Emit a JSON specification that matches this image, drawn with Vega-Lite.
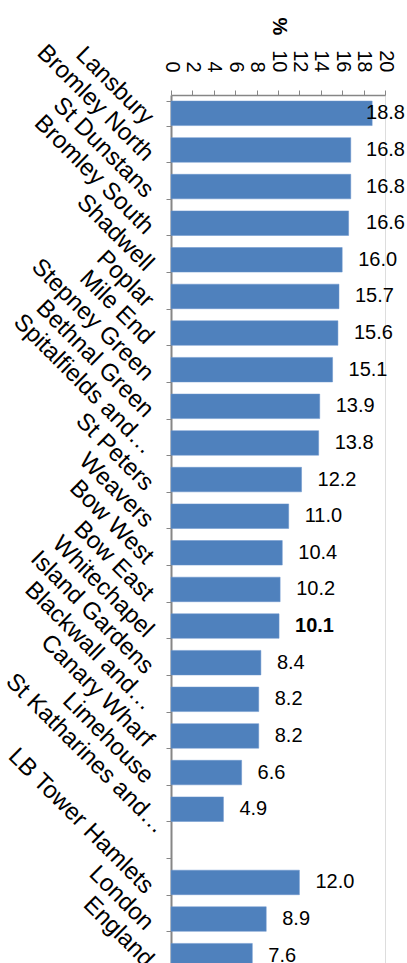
{
  "$schema": "https://vega.github.io/schema/vega-lite/v6.json",
  "autosize": {"type": "none"},
  "padding": {"left": 171, "top": 95, "right": 22, "bottom": 0},
  "width": 214,
  "height": 879,
  "background": "white",
  "data": {"values": [
    {"area": "Lansbury", "pct": 18.8, "bold": false},
    {"area": "Bromley North", "pct": 16.8, "bold": false},
    {"area": "St Dunstans", "pct": 16.8, "bold": false},
    {"area": "Bromley South", "pct": 16.6, "bold": false},
    {"area": "Shadwell", "pct": 16.0, "bold": false},
    {"area": "Poplar", "pct": 15.7, "bold": false},
    {"area": "Mile End", "pct": 15.6, "bold": false},
    {"area": "Stepney Green", "pct": 15.1, "bold": false},
    {"area": "Bethnal Green", "pct": 13.9, "bold": false},
    {"area": "Spitalfields and…", "pct": 13.8, "bold": false},
    {"area": "St Peters", "pct": 12.2, "bold": false},
    {"area": "Weavers", "pct": 11.0, "bold": false},
    {"area": "Bow West", "pct": 10.4, "bold": false},
    {"area": "Bow East", "pct": 10.2, "bold": false},
    {"area": "Whitechapel", "pct": 10.1, "bold": true},
    {"area": "Island Gardens", "pct": 8.4, "bold": false},
    {"area": "Blackwall and…", "pct": 8.2, "bold": false},
    {"area": "Canary Wharf", "pct": 8.2, "bold": false},
    {"area": "Limehouse", "pct": 6.6, "bold": false},
    {"area": "St Katharines and…", "pct": 4.9, "bold": false},
    {"area": " ", "pct": null, "bold": false},
    {"area": "LB Tower Hamlets", "pct": 12.0, "bold": false},
    {"area": "London", "pct": 8.9, "bold": false},
    {"area": "England", "pct": 7.6, "bold": false}
  ]},
  "encoding": {
    "y": {
      "field": "area", "type": "nominal", "sort": null,
      "scale": {
        "domain": ["Lansbury", "Bromley North", "St Dunstans", "Bromley South", "Shadwell", "Poplar", "Mile End", "Stepney Green", "Bethnal Green", "Spitalfields and…", "St Peters", "Weavers", "Bow West", "Bow East", "Whitechapel", "Island Gardens", "Blackwall and…", "Canary Wharf", "Limehouse", "St Katharines and…", " ", "LB Tower Hamlets", "London", "England"],
        "paddingInner": 0.33, "paddingOuter": 0.165
      },
      "axis": {
        "title": null, "tickBand": "extent", "labelAngle": 45,
        "labelAlign": "right", "labelBaseline": "middle",
        "labelOffset": {"condition": {"test": "datum.label == 'St Katharines and…'", "value": 20}, "value": 7},
        "labelPadding": {"condition": {"test": "datum.label == 'St Katharines and…'", "value": 5}, "value": 17},
        "labelFont": "Liberation Sans", "labelFontSize": 24, "labelColor": "black",
        "labelLimit": 400,
        "tickSize": 5, "tickColor": "#868686", "domainColor": "#868686", "domainWidth": 2
      }
    },
    "x": {
      "field": "pct", "type": "quantitative",
      "scale": {"domain": [0, 20], "nice": false},
      "axis": {
        "orient": "top", "title": "%", "titleAngle": 90, "titleFont": "Liberation Sans",
        "titleFontSize": 20, "titleFontWeight": "bold", "titleColor": "black",
        "titleX": 107, "titleY": -69, "titleAlign": "center", "titleBaseline": "middle",
        "values": [0, 2, 4, 6, 8, 10, 12, 14, 16, 18, 20], "tickCount": 11,
        "labelAngle": 90, "labelAlign": "right", "labelBaseline": "middle",
        "labelFont": "Liberation Sans", "labelFontSize": 20, "labelColor": "black",
        "labelPadding": 18, "labelFlush": false, "labelOverlap": false, "labelSeparation": 0,
        "grid": false, "tickSize": 5, "tickColor": "#868686", "domainColor": "#868686", "domainWidth": 1.5
      }
    }
  },
  "layer": [
    {
      "mark": {"type": "bar", "color": "#4F81BD", "stroke": "#6A95CC", "strokeWidth": 0.5}
    },
    {
      "transform": [{"filter": "datum.pct != null && datum.pct < 16.5 && !datum.bold"}],
      "mark": {"type": "text", "align": "left", "baseline": "middle", "dx": 16, "font": "Liberation Sans", "fontSize": 20, "color": "black"},
      "encoding": {
        "text": {"field": "pct", "type": "quantitative", "format": ".1f"}
      }
    },
    {
      "transform": [{"filter": "datum.bold"}],
      "mark": {"type": "text", "align": "left", "baseline": "middle", "dx": 16, "font": "Liberation Sans", "fontSize": 20, "fontWeight": "bold", "color": "black"},
      "encoding": {
        "text": {"field": "pct", "type": "quantitative", "format": ".1f"}
      }
    },
    {
      "transform": [{"filter": "datum.pct != null && datum.pct >= 16.5"}],
      "mark": {"type": "text", "align": "right", "baseline": "middle", "dx": 20, "font": "Liberation Sans", "fontSize": 20, "color": "black"},
      "encoding": {
        "x": {"datum": 20, "type": "quantitative"},
        "text": {"field": "pct", "type": "quantitative", "format": ".1f"}
      }
    }
  ]
}
